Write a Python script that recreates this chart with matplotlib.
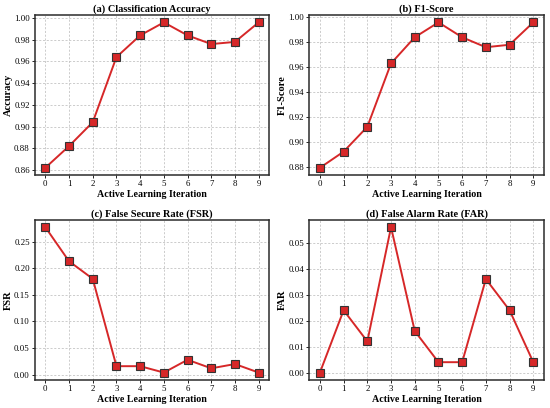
import numpy as np
import matplotlib.pyplot as plt

plt.rcParams['font.family'] = ['Liberation Serif', 'DejaVu Serif']

iterations = [0, 1, 2, 3, 4, 5, 6, 7, 8, 9]
accuracy = [0.862, 0.882, 0.904, 0.964, 0.984, 0.996, 0.984, 0.976, 0.978, 0.996]
f1_score = [0.879, 0.892, 0.912, 0.963, 0.984, 0.996, 0.984, 0.976, 0.978, 0.996]
fsr = [0.277, 0.213, 0.180, 0.016, 0.016, 0.004, 0.028, 0.012, 0.020, 0.004]
far = [0.000, 0.024, 0.012, 0.056, 0.016, 0.004, 0.004, 0.036, 0.024, 0.004]

panels = [
    ('(a) Classification Accuracy', 'Accuracy', accuracy),
    ('(b) F1-Score', 'F1-Score', f1_score),
    ('(c) False Secure Rate (FSR)', 'FSR', fsr),
    ('(d) False Alarm Rate (FAR)', 'FAR', far),
]

fig, axes = plt.subplots(2, 2, figsize=(5.5, 4.08), dpi=100)
plt.subplots_adjust(left=0.063, right=0.989, top=0.963, bottom=0.069,
                    wspace=0.17, hspace=0.28)

for ax, (title, ylabel, vals) in zip(axes.flat, panels):
    ax.plot(iterations, vals, color='#d62728', lw=1.4, marker='s',
            markersize=5.5, markerfacecolor='#d62728', markeredgecolor='#333333',
            markeredgewidth=0.8, zorder=3)
    ax.set_title(title, fontsize=7.4, fontweight='bold', pad=2.5)
    ax.set_ylabel(ylabel, fontsize=7.5, fontweight='bold', labelpad=1)
    ax.set_xlabel('Active Learning Iteration', fontsize=7.2, fontweight='bold', labelpad=1.5)
    ax.set_xticks(iterations)
    ax.yaxis.set_major_formatter(plt.FormatStrFormatter('%.2f'))
    ax.tick_params(labelsize=6.3, length=2, width=0.6, pad=1.5)
    ax.grid(True, linestyle=(0, (2.5, 2)), color='#c4c4c4', linewidth=0.6)
    for s in ax.spines.values():
        s.set_linewidth(1.1)
        s.set_color('#2b2b2b')

fig.savefig('out.png', dpi=100)
